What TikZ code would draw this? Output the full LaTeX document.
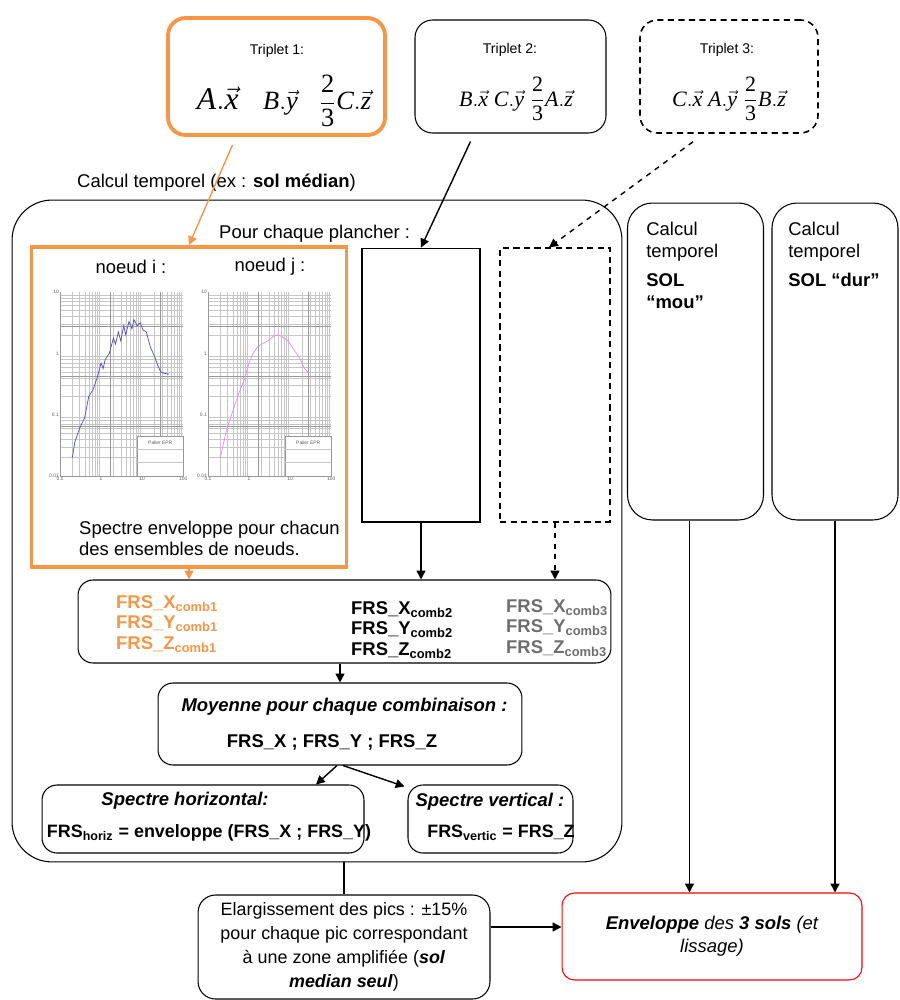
\documentclass[tikz,border=0pt]{standalone}
\usepackage{amsmath}
\usepackage{fontspec}
\setmainfont{Liberation Sans}
\newfontfamily\tms{Liberation Serif}
\usetikzlibrary{arrows.meta, positioning, calc}
\definecolor{frsorange}{HTML}{F79646}
\definecolor{frsgray}{HTML}{6E6E6E}
\definecolor{curveblue}{HTML}{4B4BC8}
\definecolor{curvepink}{HTML}{E38BE3}
% lettres et vecteurs en Times italique
\newcommand{\tl}[1]{\text{\tms\itshape #1}}
\newcommand{\tv}[1]{\vec{\text{\tms\itshape #1}}}
\newcommand{\tfr}{\frac{\text{\tms 2}}{\text{\tms 3}}}

\begin{document}
\begin{tikzpicture}[x=0.02cm, y=-0.02cm,
    font=\fontsize{10.5}{12.5}\selectfont,
    box/.style={draw, rounded corners=0.3cm, line width=0.6pt, inner sep=0pt},
    obox/.style={draw=frsorange, line width=2.2pt, inner sep=0pt},
    arr/.style={-{Triangle[length=5pt,width=5pt]}, line width=0.8pt},
    lbl/.style={font=\fontsize{8}{9}\selectfont},
    frstxt/.style={font=\fontsize{10.5}{11.7}\selectfont\bfseries, align=left, anchor=west},
    gridminor/.style={draw=gray!45, line width=0.2pt},
    gridmajor/.style={draw=gray!80, line width=0.35pt},
    tick/.style={font=\fontsize{2.8}{3}\selectfont, text=gray!70!black, inner sep=0.5pt}
]
    \useasboundingbox (0,0) rectangle (899,1000);

    % triplets
    \node[obox, rounded corners=0.35cm, minimum width=4.34cm, minimum height=2.34cm] (tr1) at (276.5,76.5) {};
    \node[box, rounded corners=0.35cm, minimum width=3.82cm, minimum height=2.26cm] (tr2) at (510.5,76.5) {};
    \node[box, rounded corners=0.35cm, dashed, dash pattern=on 3.5pt off 2.5pt, line width=0.9pt,
          minimum width=3.56cm, minimum height=2.26cm] (tr3) at (729,76.5) {};
    \node[lbl] (tr1lbl) at (277,51) {Triplet 1:};
    \node[lbl] (tr2lbl) at (510,50) {Triplet 2:};
    \node[lbl] (tr3lbl) at (727,50) {Triplet 3:};
    \node (tr1eq) at (284,101) {\fontsize{18}{18}\selectfont$\tl{A}.\tv{x}$\hspace{14pt}%
        {\fontsize{15}{15}\selectfont$\tl{B}.\tv{y}\hspace{12pt}\displaystyle\tfr\tl{C}.\tv{z}$}};
    \node (tr2eq) at (516,99) {\fontsize{12.5}{13}\selectfont$\tl{B}.\tv{x}\;\tl{C}.\tv{y}\;\displaystyle\tfr\tl{A}.\tv{z}$};
    \node (tr3eq) at (729,99) {\fontsize{12.5}{13}\selectfont$\tl{C}.\tv{x}\;\tl{A}.\tv{y}\;\displaystyle\tfr\tl{B}.\tv{z}$};

    % calcul temporel sol median
    \node[box, rounded corners=0.8cm, minimum width=12.2cm, minimum height=13.24cm] (calc) at (317,531) {};
    \node[anchor=west] (caltitle) at (71,183) {Calcul temporel (ex : \textbf{sol médian})};
    \node[anchor=west] (plancher) at (213,234) {Pour chaque plancher :};

    \node[obox, minimum width=6.3cm, minimum height=6.4cm] (env) at (189,407) {};
    \node (noeudi) at (131,267) {noeud i :};
    \node (noeudj) at (270,267) {noeud j :};
    \node[anchor=west, align=left, font=\fontsize{10.5}{12}\selectfont] (envtxt) at (73,538)
        {Spectre enveloppe pour chacun\\des ensembles de noeuds.};

    % spectres (noeuds i et j)
    \foreach \px in {60,208} {
      \begin{scope}[shift={(\px,476)}, x=0.822cm, y=1.227cm]
        \fill[white] (0,0) rectangle (3,3);
        \foreach \d in {0,1,2} \foreach \m in {2,...,9} {
          \draw[gridminor] ({\d+log10(\m)},0) -- ({\d+log10(\m)},3);
          \draw[gridminor] (0,{\d+log10(\m)}) -- (3,{\d+log10(\m)});
        }
        \draw[gridmajor] (0,0) grid (3,3);
        \foreach \v [count=\k from 0] in {0.1,1,10,100}
          \node[tick, below] at (\k,0) {\v};
        \foreach \v [count=\k from 0] in {0.01,0.1,1,10}
          \node[tick, left] at (0,\k) {\v};
        \draw[gridmajor, fill=white] (1.88,0) rectangle (3,0.64);
        \draw[gridminor] (1.88,0.22) -- (3,0.22) (1.88,0.44) -- (3,0.44);
        \node[tick] at (2.44,0.54) {Palier EPR};
      \end{scope}
    }
    \begin{scope}[shift={(60,476)}, x=0.822cm, y=1.227cm]
      \draw[curveblue, line width=0.4pt] plot coordinates {(0.301,0.301) (0.36,0.55) (0.477,0.78)
        (0.6,0.95) (0.7,1.3) (0.8,1.4) (0.903,1.6) (1.0,1.84) (1.05,1.75) (1.1,1.9) (1.2,2.0)
        (1.3,2.25) (1.35,2.15) (1.42,2.35) (1.48,2.2) (1.55,2.45) (1.6,2.3) (1.68,2.52) (1.75,2.4)
        (1.8,2.55) (1.88,2.45) (1.95,2.5) (2.02,2.38) (2.1,2.35) (2.2,2.1) (2.3,1.95) (2.38,1.8)
        (2.45,1.7) (2.5,1.68) (2.65,1.66)};
    \end{scope}
    \begin{scope}[shift={(208,476)}, x=0.822cm, y=1.227cm]
      \draw[curvepink, line width=0.4pt] plot coordinates {(0.301,0.301) (0.45,0.75) (0.6,1.05)
        (0.75,1.35) (0.9,1.6) (1.0,1.85) (1.1,2.0) (1.2,2.1) (1.3,2.15) (1.45,2.2) (1.6,2.28)
        (1.7,2.3) (1.8,2.27) (1.95,2.2) (2.1,2.05) (2.25,1.9) (2.35,1.75) (2.45,1.68)};
    \end{scope}

    \node[draw, line width=0.6pt, minimum width=2.36cm, minimum height=5.48cm] (rect2) at (421,385) {};
    \node[draw, dashed, dash pattern=on 3.5pt off 2.5pt, line width=0.7pt,
          minimum width=2.2cm, minimum height=5.48cm] (rect3) at (555,385) {};

    % autres sols
    \node[box, rounded corners=0.5cm, minimum width=2.72cm, minimum height=6.34cm] (mou) at (695.5,361.5) {};
    \node[box, rounded corners=0.5cm, minimum width=2.52cm, minimum height=6.34cm] (dur) at (835,361.5) {};
    \node[anchor=north west, align=left, inner sep=0pt] (moutxt) at (646,222)
        {Calcul\\temporel\\[4pt]\textbf{SOL}\\\textbf{“mou”}};
    \node[anchor=north west, align=left, inner sep=0pt] (durtxt) at (788,222)
        {Calcul\\temporel\\[4pt]\textbf{SOL “dur”}};

    % combinaisons
    \node[box, minimum width=10.66cm, minimum height=1.66cm] (frs) at (344.5,621.5) {};
    \node[frstxt, text=frsorange] (frs1) at (110,624)
        {FRS\_X\textsubscript{comb1}\\FRS\_Y\textsubscript{comb1}\\FRS\_Z\textsubscript{comb1}};
    \node[frstxt] (frs2) at (345,630)
        {FRS\_X\textsubscript{comb2}\\FRS\_Y\textsubscript{comb2}\\FRS\_Z\textsubscript{comb2}};
    \node[frstxt, text=frsgray] (frs3) at (500,628)
        {FRS\_X\textsubscript{comb3}\\FRS\_Y\textsubscript{comb3}\\FRS\_Z\textsubscript{comb3}};

    \node[box, minimum width=7.28cm, minimum height=1.64cm] (moy) at (340,724) {};
    \node[font=\fontsize{10.5}{12.5}\selectfont\bfseries\itshape] (moyt) at (344.5,707) {Moyenne pour chaque combinaison :};
    \node[font=\fontsize{10.5}{12.5}\selectfont\bfseries] (moyf) at (332,742) {FRS\_X ; FRS\_Y ; FRS\_Z};

    \node[box, minimum width=6.44cm, minimum height=1.36cm] (hor) at (203,819) {};
    \node[font=\fontsize{10.5}{12.5}\selectfont\bfseries\itshape] (hort) at (185,801) {Spectre horizontal:};
    \node[font=\fontsize{10.2}{12.5}\selectfont\bfseries] (horf) at (209,833)
        {FRS\textsubscript{horiz} = enveloppe (FRS\_X ; FRS\_Y)};
    \node[box, minimum width=3.3cm, minimum height=1.36cm] (ver) at (490.5,819) {};
    \node[font=\fontsize{10.5}{12.5}\selectfont\bfseries\itshape] (vert) at (490,802) {Spectre vertical :};
    \node[font=\fontsize{10.2}{12.5}\selectfont\bfseries] (verf) at (501,833) {FRS\textsubscript{vertic} = FRS\_Z};

    % elargissement et enveloppe
    \node[box, rounded corners=0.35cm, minimum width=5.84cm, minimum height=2.08cm, align=center,
          font=\fontsize{10.2}{13.7}\selectfont] (elar) at (344,947)
        {Elargissement des pics : ±15\%\\pour chaque pic correspondant\\à une zone amplifiée (\textbf{\textit{sol}}\\\textbf{\textit{median seul}})};
    \node[box, draw=red, rounded corners=0.25cm, minimum width=6cm, minimum height=1.74cm, align=center,
          font=\fontsize{10.5}{13}\selectfont\itshape] (sols) at (712,936.5)
        {\textbf{Enveloppe} des \textbf{3 sols} (et\\lissage)};

    % liaisons
    \draw[arr, frsorange] ($(tr1.south)+(-44,8)$) -- (env.north);
    \draw[arr] ($(tr2.south)+(-40,8)$) -- (rect2.north);
    \draw[arr, dashed] ($(tr3.south)+(-36,8)$) -- ($(rect3.north)+(-6,0)$);
    \draw[arr, frsorange] (env.south) -- (env.south |- frs.north);
    \draw[arr] (rect2.south) -- (rect2.south |- frs.north);
    \draw[arr, dashed] (rect3.south) -- (rect3.south |- frs.north);
    \draw[arr] (moy.north |- frs.south) -- (moy.north);
    \draw[arr] ($(moy.south)+(-3,0)$) -- ($(hor.north)+(113,0)$);
    \draw[arr] ($(moy.south)+(3,0)$) -- ($(ver.north west)+(-3,2)$);
    \draw[line width=0.6pt] (elar.north |- calc.south) -- (elar.north);
    \coordinate (elarout) at ($(elar.east)+(0,-20)$);
    \draw[arr] (elarout) -- (elarout -| sols.west);
    \draw[arr] ($(mou.south)+(-6,0)$) -- ($(mou.south |- sols.north)+(-6,0)$);
    \draw[arr] (dur.south) -- (dur.south |- sols.north);
\end{tikzpicture}
\end{document}
